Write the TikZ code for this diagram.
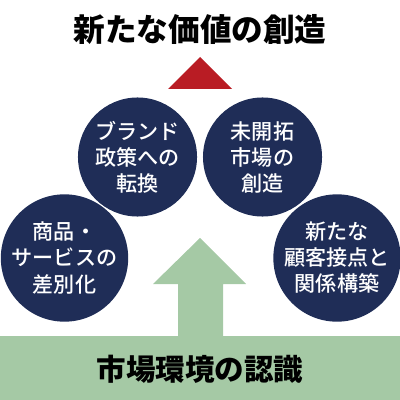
\documentclass[tikz,border=0pt]{standalone}
\usepackage{fontspec}
\newfontfamily\jp{Noto Sans CJK JP}
\newfontfamily\jpmed{Noto Sans CJK JP Medium}
\definecolor{navy}{HTML}{1F2D57}
\definecolor{crimson}{HTML}{B91C24}
\definecolor{sage}{HTML}{A5C9A5}
\tikzset{
  topic/.style={circle, fill=navy, minimum size=2.975cm, inner sep=0pt,
    text=white, align=center, font=\jpmed\fontsize{15}{18.5}\selectfont},
  heading/.style={font=\jp\bfseries\fontsize{22.5}{26}\selectfont, text=black},
}
\begin{document}
\begin{tikzpicture}[x=0.025cm, y=-0.025cm]
  \useasboundingbox (0,0) rectangle (400,400);
  % title and red triangle
  \node[heading] (goal) at (200,29) {新たな価値の創造};
  \fill[crimson] (168,89) -- (200,57) -- (232,89) -- cycle;
  % base with arrow
  \fill[sage] (0,336) -- (178,336) -- (178,284) -- (153,284) -- (200,238)
    -- (246,284) -- (223,284) -- (223,336) -- (400,336) -- (400,400)
    -- (0,400) -- cycle;
  \node[heading, font=\jp\bfseries\fontsize{21}{24}\selectfont] (base) at (200,369) {市場環境の認識};
  % four circles
  \node[topic] (brand) at (137.5,157) {ブランド\\政策への\\転換};
  \node[topic] (market) at (262.5,157) {未開拓\\市場の\\創造};
  \node[topic] (product) at (64.5,258) {商品・\\サービスの\\差別化};
  \node[topic] (contact) at (337,258) {新たな\\顧客接点と\\関係構築};
\end{tikzpicture}
\end{document}
